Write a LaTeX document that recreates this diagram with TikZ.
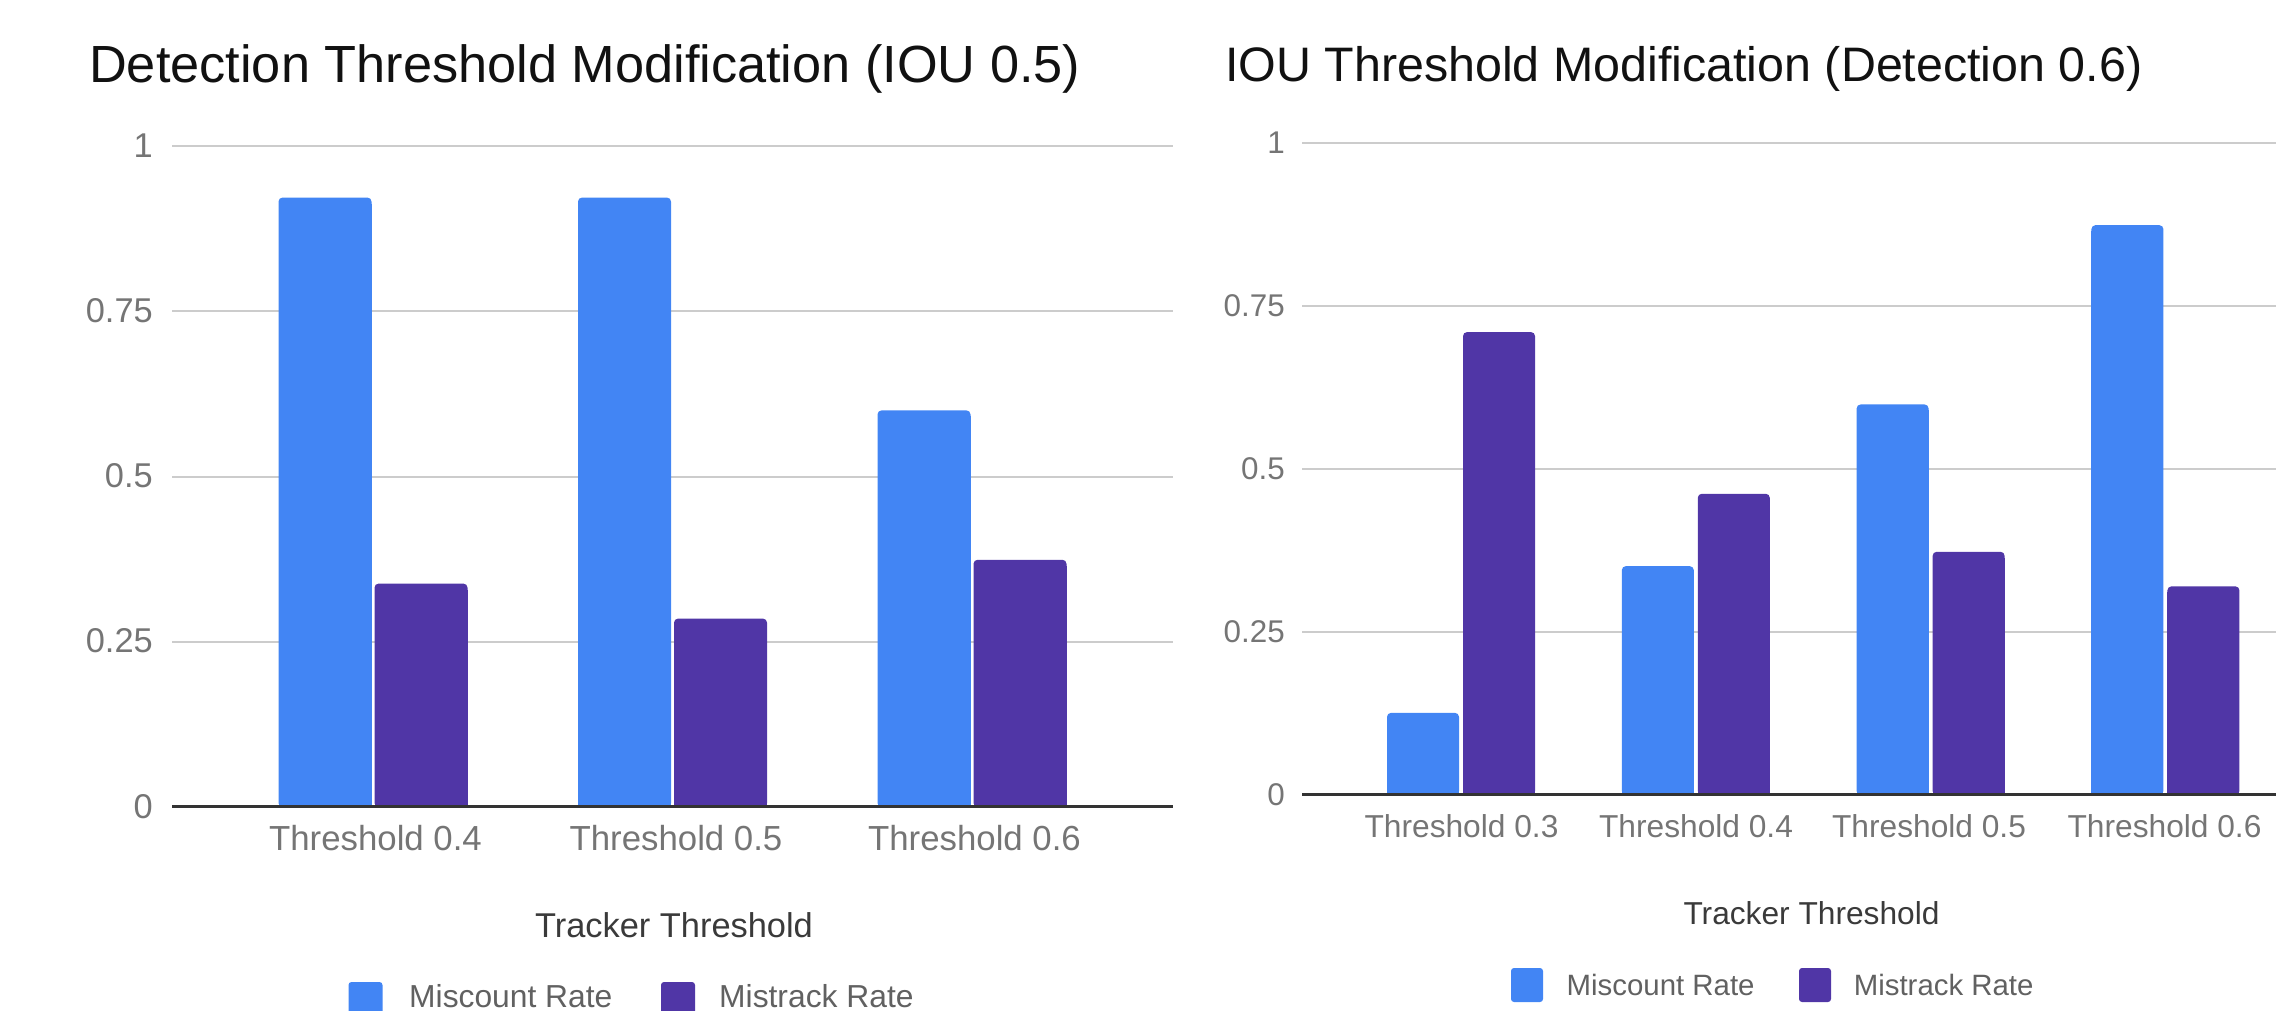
\documentclass[tikz,border=0pt]{standalone}
\usepackage{fontspec}
\setmainfont{Liberation Sans}

\definecolor{miscount}{HTML}{4285F4}
\definecolor{mistrack}{HTML}{5036A6}
\definecolor{gridgray}{HTML}{CCCCCC}
\definecolor{zerodark}{HTML}{333333}
\definecolor{ticktext}{HTML}{757575}
\definecolor{axistext}{HTML}{3A3A3A}
\definecolor{legtext}{HTML}{616161}
\definecolor{titletext}{HTML}{111111}

\newcommand{\fsz}[1]{\fontsize{#1}{#1}\selectfont}

\tikzset{
  gridline/.style={draw=gridgray, line width=2pt},
  zeroline/.style={draw=zerodark, line width=3pt},
  charttitle/.style={anchor=base west, inner sep=0pt, text=titletext},
  ticklabel/.style={anchor=base east, inner sep=0pt, text=ticktext},
  catlabel/.style={anchor=base, inner sep=0pt, text=ticktext},
  axistitle/.style={anchor=base, inner sep=0pt, text=axistext},
  legendtext/.style={anchor=base west, inner sep=0pt, text=legtext},
  legendkey/.style={rounded corners=3pt},
}

\begin{document}
\begin{tikzpicture}[x=1pt,y=-1pt]
\useasboundingbox (0,0) rectangle (2276,1010);

% ---------------- Detection threshold chart ----------------
\node[charttitle, font=\fsz{52.3}] (titleA) at (89,82) {Detection Threshold Modification (IOU 0.5)};

\foreach \v/\lab [count=\i] in {1/1, 0.75/0.75, 0.5/0.5, 0.25/0.25} {
  \pgfmathsetmacro\gy{807-661*\v}
  \draw[gridline] (172,\gy) -- (1173,\gy);
  \node[ticklabel, font=\fsz{34.4}] (tickA\i) at (153,\gy+11) {\lab};
}
\node[ticklabel, font=\fsz{34.4}] (tickA0) at (153,818) {0};

\foreach \c/\b/\p [count=\i] in {373/0.922/0.338, 672.5/0.922/0.285, 972/0.600/0.374} {
  \pgfmathsetmacro\tb{807-661*\b}
  \pgfmathsetmacro\tp{807-661*\p}
  \fill[miscount, rounded corners=4pt] (\c-94.5,807) rectangle (\c-1.5,\tb);
  \fill[miscount] (\c-94.5,807) rectangle (\c-1.5,\tb+6);
  \fill[mistrack, rounded corners=4pt] (\c+1.5,807) rectangle (\c+94.5,\tp);
  \fill[mistrack] (\c+1.5,807) rectangle (\c+94.5,\tp+6);
}
\draw[zeroline] (172,806.5) -- (1173,806.5);

\node[catlabel, font=\fsz{34.8}] (catA1) at (375.5,850) {Threshold 0.4};
\node[catlabel, font=\fsz{34.8}] (catA2) at (676,850) {Threshold 0.5};
\node[catlabel, font=\fsz{34.8}] (catA3) at (974.5,850) {Threshold 0.6};

\node[axistitle, font=\fsz{34.4}] (axisA) at (674,937) {Tracker Threshold};

\fill[miscount, legendkey] (348.5,982) rectangle (382.5,1018);
\node[legendtext, font=\fsz{31.8}] (legA1) at (409,1007) {Miscount Rate};
\fill[mistrack, legendkey] (661,982) rectangle (695,1018);
\node[legendtext, font=\fsz{31.8}] (legA2) at (719,1007) {Mistrack Rate};

% ---------------- IOU threshold chart ----------------
\node[charttitle, font=\fsz{48.4}] (titleB) at (1225,81) {IOU Threshold Modification (Detection 0.6)};

\foreach \v/\lab [count=\i] in {1/1, 0.75/0.75, 0.5/0.5, 0.25/0.25} {
  \pgfmathsetmacro\gy{795-652*\v}
  \draw[gridline] (1302,\gy) -- (2276,\gy);
  \node[ticklabel, font=\fsz{31.4}] (tickB\i) at (1285,\gy+10.5) {\lab};
}
\node[ticklabel, font=\fsz{31.4}] (tickB0) at (1285,805.5) {0};

\foreach \c/\b/\p [count=\i] in {1461/0.126/0.710, 1695.8/0.351/0.462, 1930.6/0.599/0.373, 2165.4/0.874/0.320} {
  \pgfmathsetmacro\tb{795-652*\b}
  \pgfmathsetmacro\tp{795-652*\p}
  \fill[miscount, rounded corners=4pt] (\c-74,795) rectangle (\c-2,\tb);
  \fill[miscount] (\c-74,795) rectangle (\c-2,\tb+6);
  \fill[mistrack, rounded corners=4pt] (\c+2,795) rectangle (\c+74,\tp);
  \fill[mistrack] (\c+2,795) rectangle (\c+74,\tp+6);
}
\draw[zeroline] (1302,794.5) -- (2276,794.5);

\node[catlabel, font=\fsz{31.7}] (catB1) at (1461.5,837) {Threshold 0.3};
\node[catlabel, font=\fsz{31.7}] (catB2) at (1696,837) {Threshold 0.4};
\node[catlabel, font=\fsz{31.7}] (catB3) at (1929,837) {Threshold 0.5};
\node[catlabel, font=\fsz{31.7}] (catB4) at (2164.5,837) {Threshold 0.6};

\node[axistitle, font=\fsz{31.7}] (axisB) at (1811.5,924) {Tracker Threshold};

\fill[miscount, legendkey] (1511,968) rectangle (1543,1002);
\node[legendtext, font=\fsz{29.4}] (legB1) at (1566.5,995) {Miscount Rate};
\fill[mistrack, legendkey] (1799,968) rectangle (1831,1002);
\node[legendtext, font=\fsz{29.4}] (legB2) at (1853.6,995) {Mistrack Rate};
\end{tikzpicture}
\end{document}
